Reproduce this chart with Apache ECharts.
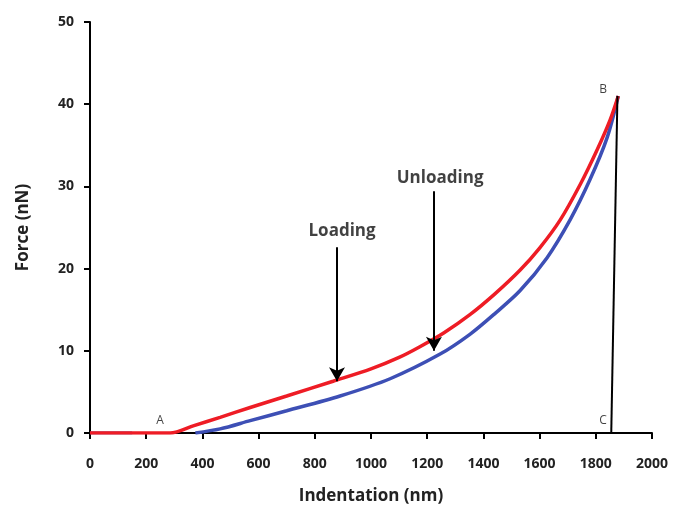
<!DOCTYPE html>
<html>
<head>
<meta charset="utf-8">
<script src="https://cdn.jsdelivr.net/npm/echarts@6/dist/echarts.min.js"></script>
<style>
  html, body { margin: 0; padding: 0; background: #fff; }
  #chart { width: 682px; height: 517px; }
</style>
</head>
<body>
<div id="chart"></div>
<script>
// loading curve (red)
const loadX = [0, 100, 200, 285, 370, 463, 570, 700, 865, 1000, 1100, 1174, 1260, 1352, 1440, 1530, 1600, 1673, 1744, 1804, 1851, 1880];
const loadY = [0, 0, 0, 0, 0.9, 1.9, 3.1, 4.5, 6.3, 7.8, 9.2, 10.5, 12.2, 14.4, 16.9, 19.8, 22.5, 25.9, 30.2, 34.4, 38.1, 41];

// unloading curve (blue)
const unloadX = [375, 463, 570, 700, 890, 1068, 1246, 1352, 1440, 1530, 1626, 1708, 1779, 1840, 1880];
const unloadY = [0, 0.5, 1.5, 2.7, 4.5, 6.6, 9.6, 12.0, 14.5, 17.3, 21.3, 25.9, 30.8, 35.9, 41];
// short blue baseline segment near origin
const baseX = [0, 150];
const baseY = [0, 0];

// B -> C drop line
const dropX = [1877, 1855];
const dropY = [41, 0];

// annotation labels
const annoText = ['Loading', 'Unloading', 'A', 'B', 'C', 'D'];
const annoX = [897, 1246, 249, 1826, 1826, 352];
const annoY = [24.6, 31.0, 1.5, 41.8, 1.5, -1.1];

// arrows: [x, fromY, toY]
const arrows = [[879, 22.6, 6.3], [1224, 29.4, 10.0]];

const zip = (xs, ys) => xs.map((x, i) => [x, ys[i]]);

const chart = echarts.init(document.getElementById('chart'));
const font = '"Open Sans", "Noto Sans", sans-serif';

chart.setOption({
  animation: false,
  grid: { left: 90, right: 30, top: 22, bottom: 84 },
  xAxis: {
    type: 'value', min: 0, max: 2000, interval: 200,
    name: 'Indentation (nm)', nameLocation: 'middle', nameGap: 55,
    nameTextStyle: { fontFamily: font, fontSize: 17, fontWeight: 'bold', color: '#222' },
    axisLine: { lineStyle: { color: '#000', width: 2 } },
    axisTick: { show: true, length: 6, lineStyle: { color: '#000', width: 2 } },
    axisLabel: { fontFamily: font, fontSize: 14, fontWeight: 'bold', color: '#222', margin: 24, formatter: v => String(v) },
    splitLine: { show: false }
  },
  yAxis: {
    type: 'value', min: 0, max: 50, interval: 10,
    name: 'Force (nN)', nameLocation: 'middle', nameGap: 58, nameRotate: 90,
    nameTextStyle: { fontFamily: font, fontSize: 17, fontWeight: 'bold', color: '#222' },
    axisLine: { show: true, lineStyle: { color: '#000', width: 2 } },
    axisTick: { show: true, length: 6, lineStyle: { color: '#000', width: 2 } },
    axisLabel: { fontFamily: font, fontSize: 14, fontWeight: 'bold', color: '#222', margin: 16 },
    splitLine: { show: false }
  },
  series: [
    {
      type: 'line', data: zip(baseX, baseY), showSymbol: false,
      lineStyle: { color: '#3d4fb5', width: 3 }
    },
    {
      type: 'line', data: zip(unloadX, unloadY), showSymbol: false, smooth: 0.3,
      lineStyle: { color: '#3d4fb5', width: 3.5 }
    },
    {
      type: 'line', data: zip(loadX, loadY), showSymbol: false, smooth: 0.3,
      lineStyle: { color: '#ee1c25', width: 3.5 }
    },
    {
      type: 'line', data: zip(dropX, dropY), showSymbol: false,
      lineStyle: { color: '#000', width: 2 },
      markLine: {
        silent: true,
        symbol: ['none', 'arrow'], symbolSize: [12, 14],
        label: { show: false },
        lineStyle: { color: '#000', width: 2, type: 'solid' },
        data: arrows.map(a => [{ coord: [a[0], a[1]] }, { coord: [a[0], a[2]] }])
      }
    },
    {
      type: 'scatter', symbolSize: 1, silent: true,
      itemStyle: { color: 'transparent' },
      data: annoX.map((x, i) => ({
        value: [x, annoY[i]], name: annoText[i],
        label: i < 2
          ? { fontSize: 17, fontWeight: 'bold' }
          : { fontSize: 12, fontWeight: 'normal' }
      })),
      label: {
        show: true, position: 'inside', color: '#111', fontFamily: font,
        formatter: p => p.name
      }
    }
  ]
});
</script>
</body>
</html>
